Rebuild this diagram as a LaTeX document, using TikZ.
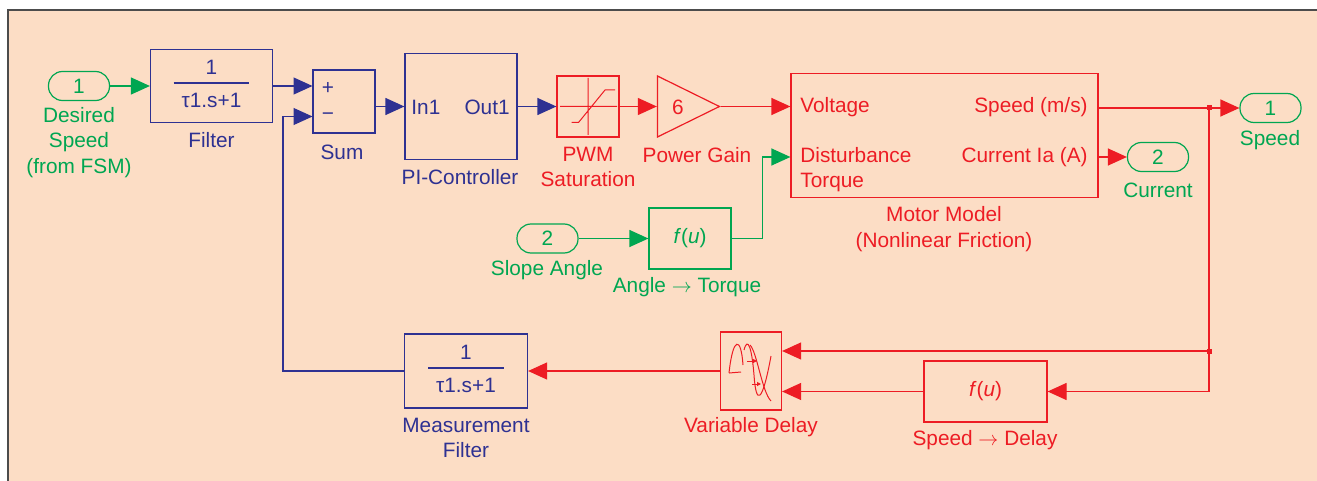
\documentclass[tikz,border=0pt]{standalone}
\usepackage{fontspec}
\setmainfont{Liberation Sans}
\usetikzlibrary{arrows.meta, positioning, calc, shapes.geometric}

\definecolor{simgreen}{RGB}{0,166,81}
\definecolor{simblue}{RGB}{46,49,146}
\definecolor{simred}{RGB}{237,28,36}
\definecolor{peach}{RGB}{252,221,197}

\setlength{\arrayrulewidth}{0.7pt}
\newcommand{\lagfrac}{\begin{tabular}{@{\hspace{4pt}}c@{\hspace{4pt}}}1\\\hline\rule{0pt}{12pt}τ1.s+1\end{tabular}}
\newcommand{\fofu}{\textit{f}(\textit{u})}

\begin{document}
\begin{tikzpicture}[x=0.5pt, y=-0.5pt,
    every node/.style={font=\fontsize{10.4}{12.75}\selectfont, inner sep=0pt},
    bluebox/.style={rectangle, draw=simblue, text=simblue, line width=0.6pt, align=center},
    redbox/.style={rectangle, draw=simred, text=simred, line width=0.6pt, align=center},
    greenbox/.style={rectangle, draw=simgreen, text=simgreen, line width=0.6pt, align=center},
    port/.style={rectangle, draw=simgreen, text=simgreen, line width=0.6pt, rounded corners=7pt, minimum width=30.5pt, minimum height=14.5pt},
    gainbox/.style={isosceles triangle, isosceles triangle stretches, draw=simred, line width=0.6pt, minimum width=30.5pt, minimum height=31pt, anchor=apex},
    lbl/.style={align=center},
    arr/.style={-{Triangle[length=9.5pt, width=8.5pt]}, line width=0.6pt},
    wire/.style={line width=0.6pt}
]
\useasboundingbox (0,0) rectangle (1317,481);
\fill[peach] (8,10) rectangle (1317,481);
\draw[black!70, line width=1pt] (8,481) -- (8,10) -- (1317,10);

% blocks
\node[port] (in1) at (79,86) {1};
\node[bluebox, minimum width=61pt, minimum height=36.5pt] (filt) at (211.5,86) {\lagfrac};
\node[bluebox, minimum width=31pt, minimum height=31.5pt] (sum) at (344,101.5) {};
\node[bluebox, minimum width=56pt, minimum height=53pt] (pic) at (461,106.5) {};
\node[redbox, minimum width=31pt, minimum height=30.5pt] (sat) at (588,106.5) {};
\node[gainbox] (gain) at (721,106.5) {};
\node[redbox, minimum width=153.5pt, minimum height=62pt] (motor) at (944.5,135.5) {};
\node[port] (out1) at (1270.5,108) {1};
\node[port] (out2) at (1158,157) {2};
\node[port] (in2) at (547.5,238.5) {2};
\node[greenbox, minimum width=41pt, minimum height=30.5pt] (fang) at (690,238.5) {\fofu};
\node[redbox, minimum width=61.5pt, minimum height=30.5pt] (fspd) at (985.5,391.5) {\fofu};
\node[redbox, minimum width=30.5pt, minimum height=39pt] (vdel) at (751,371) {};
\node[bluebox, minimum width=61.5pt, minimum height=37pt] (mfilt) at (466,371) {\lagfrac};

% texts inside blocks
\node[text=simblue] at (328,88) {+};
\node[text=simblue] at (328,117) {−};
\node[text=simblue, anchor=west] at (411,107) {In1};
\node[text=simblue, anchor=east] at (510,107) {Out1};
\node[text=simred] at (678,107) {6};
\node[text=simred, anchor=west] at (800,107) {Voltage};
\node[text=simred, anchor=west, align=left] at (800,169.5) {Disturbance\\Torque};
\node[text=simred, anchor=east] at (1088,107) {Speed (m/s)};
\node[text=simred, anchor=east] at (1088,157) {Current Ia (A)};

% icons
\draw[simred, line width=0.5pt] (560,106.5) -- (617,106.5) (588,78) -- (588,135)
    (571.5,122.5) -- (578.5,122.5) -- (605,90) -- (615,90);
\draw[simred, line width=0.5pt] (729,373) .. controls (733,336) and (741,336) .. (743,365);
\draw[simred, line width=0.5pt] (729,373) -- (741,372);
\draw[simred, line width=0.5pt] (744,350) .. controls (748,335) and (752,350) .. (754,375)
    .. controls (756,405) and (762,405) .. (771,356);
\draw[simred, line width=0.5pt] (750,345) .. controls (757,352) and (762,392) .. (771,401);
\draw[simred, line width=0.5pt, -{Triangle[length=2pt, width=2pt]}] (747,361) -- (757,361);
\draw[simred, line width=0.5pt, -{Triangle[length=2pt, width=2pt]}] (752,384) -- (761,384);

% labels
\node[lbl, text=simgreen] at (79,142.5) {Desired\\Speed\\(from FSM)};
\node[lbl, text=simblue] at (211.5,140) {Filter};
\node[lbl, text=simblue] at (342,152) {Sum};
\node[lbl, text=simblue] at (460,177) {PI-Controller};
\node[lbl, text=simred] at (588,167) {PWM\\Saturation};
\node[lbl, text=simred] at (697,155) {Power Gain};
\node[lbl, text=simred] at (944,229) {Motor Model\\(Nonlinear Friction)};
\node[lbl, text=simgreen] at (1270,140) {Speed};
\node[lbl, text=simgreen] at (1158,190) {Current};
\node[lbl, text=simgreen] at (547,270) {Slope Angle};
\node[lbl, text=simgreen] at (687,287) {Angle $\rightarrow$ Torque};
\node[lbl, text=simred] at (751,427) {Variable Delay};
\node[lbl, text=simred] at (985,440) {Speed $\rightarrow$ Delay};
\node[lbl, text=simblue] at (466,438) {Measurement\\Filter};

% ports and branch points
\coordinate (sump) at (312.5,86);
\coordinate (summ) at (312.5,116.5);
\coordinate (br1) at (1209,108);
\coordinate (br2) at (1209,351);

% connectors
\draw[arr, simgreen] (in1) -- (filt);
\draw[arr, simblue] (filt) -- (sump);
\draw[arr, simblue] (sum.east |- pic) -- (pic);
\draw[arr, simblue] (pic) -- (sat);
\draw[arr, simred] (sat) -- (gain);
\draw[arr, simred] (gain.apex) -- (gain.apex -| motor.west);
\draw[wire, simred] (motor.east |- out1) -- (br1);
\draw[arr, simred] (br1) -- (out1);
\draw[arr, simred] (motor.east |- out2) -- (out2);
\draw[arr, simgreen] (in2) -- (fang);
\draw[arr, simgreen] (fang.east) -- ++(31,0) |- (motor.west |- out2);
\draw[wire, simred] (br1) -- (br2);
\draw[arr, simred] (br2) -- (br2 -| vdel.east);
\draw[arr, simred] (br2) |- (fspd.east);
\draw[arr, simred] (fspd) -- (fspd -| vdel.east);
\draw[arr, simred] (vdel) -- (mfilt);
\draw[arr, simblue] (mfilt.west) -| (283,116.5) -- (summ);
\fill[simred] (br1) ++(-2.5,-2.5) rectangle ++(5,5);
\fill[simred] (br2) ++(-2.5,-2.5) rectangle ++(5,5);
\end{tikzpicture}
\end{document}
